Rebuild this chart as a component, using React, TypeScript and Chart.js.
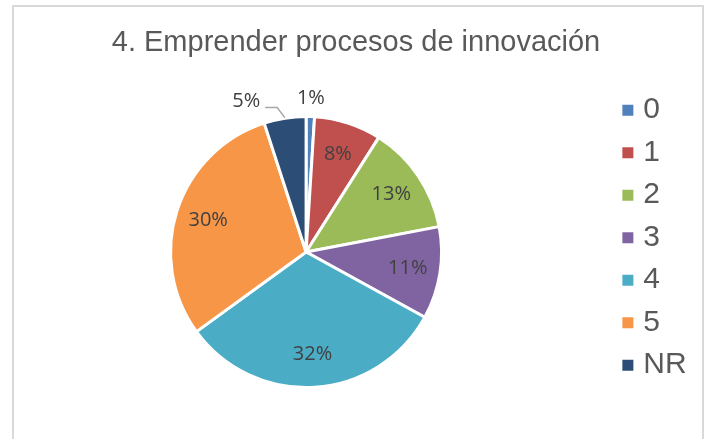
import React, { useEffect, useRef } from "react";
import { Chart, registerables } from "chart.js";

Chart.register(...registerables);

const TITLE = "4. Emprender procesos de innovación";
const CATEGORIES = ["0", "1", "2", "3", "4", "5", "NR"];
const VALUES = [1, 8, 13, 11, 32, 30, 5];
const COLORS = ["#4F81BD", "#C0504D", "#9BBB59", "#8064A2", "#4BACC6", "#F79646", "#2C4D75"];

const LABEL_FONT = '20px "Open Sans"';
const TEXT_FONT = "Liberation Sans";
const PLOT_SHIFT_X = -9;

const plotAreaPlugin = {
  id: "plotArea",
  afterLayout(chart: any) {
    const a = chart.chartArea;
    a.left += PLOT_SHIFT_X;
    a.right += PLOT_SHIFT_X;
  },
};

const pieLabelPlugin = {
  id: "pieLabels",
  afterDatasetsDraw(chart: any) {
    const ctx = chart.ctx;
    const meta = chart.getDatasetMeta(0);
    const data = chart.data.datasets[0].data as number[];
    const total = data.reduce((a, b) => a + b, 0);
    ctx.save();
    ctx.font = LABEL_FONT;
    ctx.fillStyle = "#404040";
    ctx.textBaseline = "middle";
    meta.data.forEach((arc: any, i: number) => {
      const { x, y, startAngle, endAngle, outerRadius } = arc.getProps(
        ["x", "y", "startAngle", "endAngle", "outerRadius"],
        true
      );
      const mid = (startAngle + endAngle) / 2;
      const pct = Math.round((data[i] / total) * 100);
      const text = pct + "%";
      const cos = Math.cos(mid);
      const sin = Math.sin(mid);
      if (pct >= 6) {
        ctx.textAlign = "center";
        ctx.fillText(text, x + cos * outerRadius * 0.76, y + sin * outerRadius * 0.76);
      } else if (cos >= 0) {
        ctx.textAlign = "center";
        ctx.fillText(text, x + cos * outerRadius * 1.135, y + sin * outerRadius * 1.135);
      } else {
        const r0 = outerRadius + 0.5;
        const ex = x + cos * r0;
        const ey = y + sin * r0;
        const r1 = outerRadius * 1.08;
        const bx = x + cos * r1 - 6;
        const by = y + sin * r1;
        const hx = bx - 12;
        ctx.strokeStyle = "#A6A6A6";
        ctx.lineWidth = 1.5;
        ctx.beginPath();
        ctx.moveTo(ex, ey);
        ctx.lineTo(bx, by);
        ctx.lineTo(hx, by);
        ctx.stroke();
        ctx.textAlign = "right";
        ctx.fillText(text, hx - 5, by - 6.5);
      }
    });
    ctx.restore();
  },
};

export default function App() {
  const canvasRef = useRef<HTMLCanvasElement | null>(null);

  useEffect(() => {
    let chart: Chart | null = null;
    let cancelled = false;
    const create = () => {
      if (cancelled || !canvasRef.current) return;
      chart = new Chart(canvasRef.current, {
        type: "pie",
        data: {
          labels: CATEGORIES,
          datasets: [
            {
              data: VALUES,
              backgroundColor: COLORS,
              borderColor: "#FFFFFF",
              borderWidth: 3,
              radius: 135.5,
              clip: false,
            } as any,
          ],
        },
        options: {
          responsive: false,
          animation: false,
          events: [],
          layout: { padding: { left: 15.3, right: 10.3, top: 0, bottom: 17.7 } },
          plugins: {
            title: {
              display: true,
              text: TITLE,
              color: "#595959",
              font: { family: TEXT_FONT, size: 29, weight: "normal" },
              padding: { top: 26, bottom: 21.9 },
            },
            legend: {
              position: "right",
              align: "start",
              fullSize: false,
              labels: {
                usePointStyle: true,
                pointStyle: "rect",
                boxWidth: 1,
                boxHeight: 11,
                padding: 12.5,
                color: "#595959",
                font: { family: TEXT_FONT, size: 30 },
                generateLabels: (c: any) =>
                  (Chart as any).overrides.pie.plugins.legend.labels
                    .generateLabels(c)
                    .map((l: any) => ({ ...l, lineWidth: 0, pointStyle: "rect" })),
              },
            },
            tooltip: { enabled: false },
          },
        } as any,
        plugins: [plotAreaPlugin, pieLabelPlugin],
      });
    };
    const fonts = (document as any).fonts;
    if (fonts && fonts.load) {
      Promise.all([
        fonts.load(LABEL_FONT),
        fonts.load(`30px "${TEXT_FONT}"`),
      ])
        .catch(() => null)
        .then(create);
    } else {
      create();
    }
    return () => {
      cancelled = true;
      if (chart) chart.destroy();
    };
  }, []);

  return (
    <div
      style={{
        position: "fixed",
        left: 0,
        top: 0,
        width: 707,
        height: 439,
        overflow: "hidden",
        background: "#FFFFFF",
      }}
    >
      <div
        style={{
          position: "absolute",
          left: 12,
          top: 5,
          width: 688,
          height: 500,
          border: "2px solid #D9D9D9",
          boxSizing: "content-box",
        }}
      />
      <canvas
        ref={canvasRef}
        width={707}
        height={439}
        style={{ position: "absolute", left: 0, top: 0, display: "block" }}
      />
    </div>
  );
}
